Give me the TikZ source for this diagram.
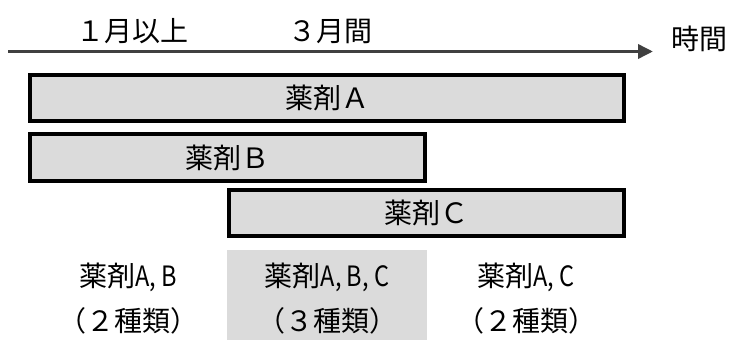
\documentclass[tikz,border=0pt]{standalone}
\usepackage{fontspec}
\setmainfont{Noto Sans CJK JP}
\usetikzlibrary{arrows.meta}
\definecolor{boxfill}{HTML}{DBDBDB}
\definecolor{axisgray}{HTML}{404040}
\newcommand{\narrowlat}[1]{\scalebox{0.84}[1]{#1}}
\tikzset{
  drug/.style={draw=black, line width=4pt, fill=boxfill, inner sep=0pt,
    minimum height=46pt, font=\fontsize{28}{32}\selectfont},
  lbl/.style={inner sep=0pt, font=\fontsize{28}{32}\selectfont},
  axis/.style={draw=axisgray, line width=3.5pt, -{Triangle[length=15pt,width=14pt]}}
}
\begin{document}
\begin{tikzpicture}[x=1pt,y=-1pt]
\useasboundingbox (0,0) rectangle (730,340);
% shaded middle column
\fill[boxfill] (227,250) rectangle (427,340);
% time axis
\coordinate (t0) at (8,51.5);
\coordinate (t1) at (653,51.5);
\draw[axis] (t0) -- (t1);
\node[lbl] (m1) at (132,31) {１月以上};
\node[lbl] (m3) at (330,31) {３月間};
\node[lbl] (time) at (699,39) {時間};
% drug bars
\node[drug, minimum width=594pt] (A) at (327,98) {薬剤Ａ};
\node[drug, minimum width=395pt, minimum height=47pt] (B) at (227.5,157.5) {薬剤Ｂ};
\node[drug, minimum width=395pt] (C) at (426.5,213) {薬剤Ｃ};
% bottom labels
\node[lbl] (ab) at (128,277) {薬剤\narrowlat{A, B}};
\node[lbl] (ab2) at (128,321) {（２種類）};
\node[lbl] (abc) at (327,277) {薬剤\narrowlat{A, B, C}};
\node[lbl] (abc2) at (327,321) {（３種類）};
\node[lbl] (ac) at (526,277) {薬剤\narrowlat{A, C}};
\node[lbl] (ac2) at (526,321) {（２種類）};
\end{tikzpicture}
\end{document}
